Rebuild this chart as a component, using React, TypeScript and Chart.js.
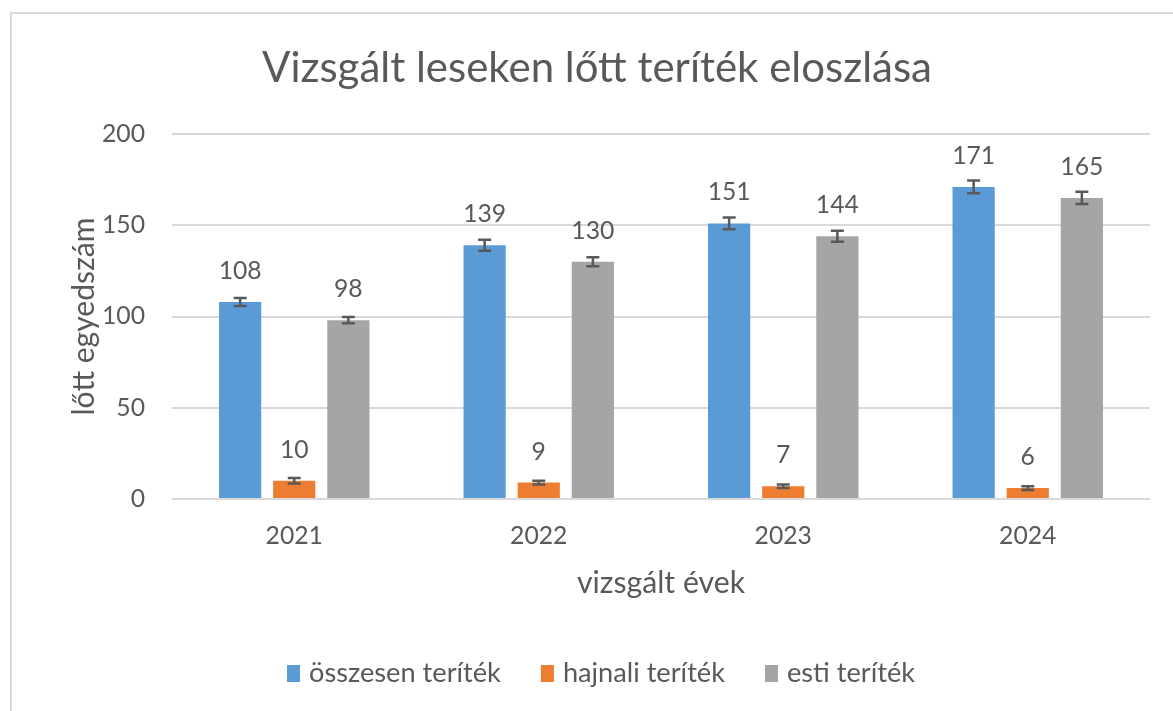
import { useEffect, useRef } from "react";
import { Chart, registerables } from "chart.js";

Chart.register(...registerables);

const years = ["2021", "2022", "2023", "2024"];
const totalValues = [108, 139, 151, 171];
const dawnValues = [10, 9, 7, 6];
const eveningValues = [98, 130, 144, 165];
const totalErrors = [2.2, 3, 3.2, 3.5];
const dawnErrors = [1.5, 1, 1, 1];
const eveningErrors = [1.7, 2.5, 3, 3.3];
const seriesNames = ["összesen teríték", "hajnali teríték", "esti teríték"];
const seriesColors = ["#5b9bd5", "#ed7d31", "#a5a5a5"];
const chartTitle = "Vizsgált leseken lőtt teríték eloszlása";
const xTitle = "vizsgált évek";
const yTitle = "lőtt egyedszám";

const FAMILY = "Lato, 'Noto Sans', sans-serif";
const TEXT = "#595959";

function fit(text: string, width: number): number {
  const c = document.createElement("canvas").getContext("2d")!;
  c.font = `100px ${FAMILY}`;
  return (100 * width) / c.measureText(text).width;
}

export default function App() {
  const ref = useRef<HTMLCanvasElement>(null);
  useEffect(() => {
    const titleSize = fit(chartTitle, 670);
    const tickSize = fit("200", 43);
    const legendSize = fit(seriesNames[0], 192);
    const xTitleSize = fit(xTitle, 168);
    const yTitleSize = fit(yTitle, 198);
    const errors = [totalErrors, dawnErrors, eveningErrors];

    const decor = {
      id: "decor",
      beforeDraw(chart: any) {
        const ctx = chart.ctx;
        ctx.save();
        ctx.fillStyle = "#fff";
        ctx.fillRect(0, 0, chart.width, chart.height);
        ctx.strokeStyle = "#d9d9d9";
        ctx.lineWidth = 2;
        ctx.beginPath();
        ctx.moveTo(11, chart.height);
        ctx.lineTo(11, 13);
        ctx.lineTo(chart.width, 13);
        ctx.stroke();
        // title
        ctx.fillStyle = TEXT;
        ctx.font = `${titleSize}px ${FAMILY}`;
        ctx.textAlign = "center";
        ctx.textBaseline = "middle";
        ctx.fillText(chartTitle, 597, 68);
        // legend
        ctx.font = `${legendSize}px ${FAMILY}`;
        ctx.textAlign = "left";
        ctx.textBaseline = "alphabetic";
        let x = 287;
        seriesNames.forEach((name, i) => {
          ctx.fillStyle = seriesColors[i];
          ctx.fillRect(x, 665, 13, 17);
          ctx.fillStyle = TEXT;
          const tx = x + 22;
          ctx.fillText(name, tx, 682);
          x = tx + ctx.measureText(name).width + 40;
        });
        ctx.restore();
      },
      afterDatasetsDraw(chart: any) {
        const ctx = chart.ctx;
        const yScale = chart.scales.y;
        ctx.save();
        chart.data.datasets.forEach((ds: any, i: number) => {
          const meta = chart.getDatasetMeta(i);
          meta.data.forEach((bar: any, j: number) => {
            const v = ds.data[j];
            const e = errors[i][j];
            const yTop = yScale.getPixelForValue(v + e);
            const yBot = yScale.getPixelForValue(v - e);
            ctx.strokeStyle = "#595959";
            ctx.lineWidth = 2.5;
            ctx.beginPath();
            ctx.moveTo(bar.x, yTop);
            ctx.lineTo(bar.x, yBot);
            ctx.moveTo(bar.x - 6.5, yTop);
            ctx.lineTo(bar.x + 6.5, yTop);
            ctx.moveTo(bar.x - 6.5, yBot);
            ctx.lineTo(bar.x + 6.5, yBot);
            ctx.stroke();
            ctx.fillStyle = TEXT;
            ctx.font = `${tickSize}px ${FAMILY}`;
            ctx.textAlign = "center";
            ctx.textBaseline = "middle";
            ctx.fillText(String(v), bar.x, yScale.getPixelForValue(v) - 31);
          });
        });
        ctx.restore();
      },
    };

    const xLh = xTitleSize * 1.2;
    const yLh = yTitleSize * 1.2;
    const chart = new Chart(ref.current!, {
      type: "bar",
      data: {
        labels: years,
        datasets: [totalValues, dawnValues, eveningValues].map((d, i) => ({
          label: seriesNames[i],
          data: d,
          backgroundColor: seriesColors[i],
          borderWidth: 0,
          categoryPercentage: 0.664,
          barPercentage: 0.78,
        })),
      },
      options: {
        responsive: false,
        animation: false,
        events: [],
        layout: { padding: { top: 134, left: 0, right: 23, bottom: 0 } },
        plugins: {
          legend: { display: false },
          title: { display: false },
          tooltip: { enabled: false },
        },
        scales: {
          x: {
            grid: { display: false, drawTicks: false },
            border: { display: false },
            ticks: {
              color: TEXT,
              font: { family: FAMILY, size: tickSize },
              padding: 22,
            },
            title: {
              display: true,
              text: xTitle,
              color: TEXT,
              font: { family: FAMILY, size: xTitleSize },
              padding: { top: 0, bottom: 128 - xLh / 2 },
            },
            afterFit: (s: any) => {
              s.height = 212;
            },
          },
          y: {
            min: 0,
            max: 200,
            ticks: {
              stepSize: 50,
              color: TEXT,
              font: { family: FAMILY, size: tickSize },
              padding: 27,
            },
            grid: { color: "#d9d9d9", lineWidth: 2, drawTicks: false },
            border: { display: false },
            title: {
              display: true,
              text: yTitle,
              color: TEXT,
              font: { family: FAMILY, size: yTitleSize },
              padding: { top: 84.5 - yLh / 2, bottom: 0 },
            },
            afterFit: (s: any) => {
              s.width = 172;
            },
          },
        },
      },
      plugins: [decor],
    });
    return () => chart.destroy();
  }, []);
  return (
    <div style={{ position: "fixed", left: 0, top: 0, width: 1173, height: 711 }}>
      <canvas ref={ref} width={1173} height={711} style={{ display: "block" }} />
    </div>
  );
}
